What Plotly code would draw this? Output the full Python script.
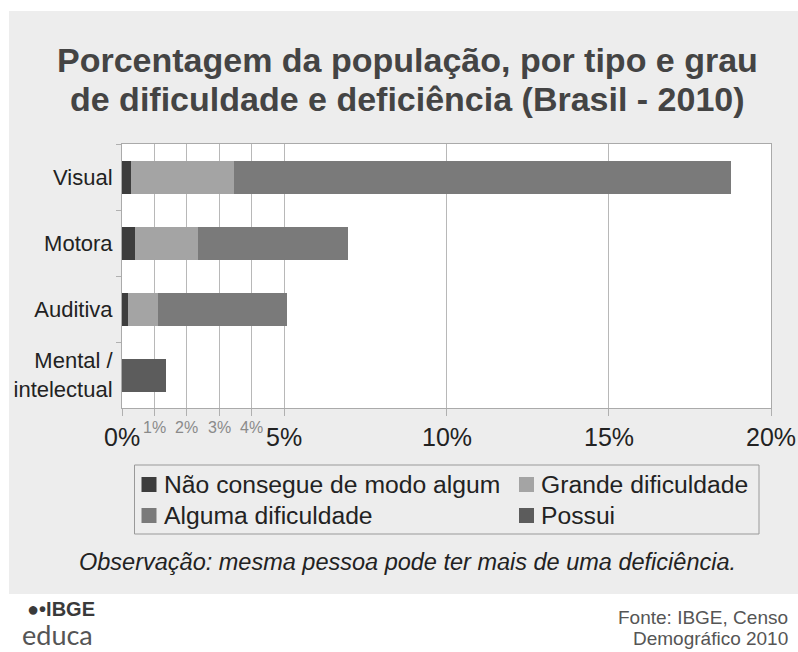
import plotly.graph_objects as go

# ---------------- data ----------------
categories = ["Visual", "Motora", "Auditiva", "Mental /<br>intelectual"]
nao_consegue = [0.27, 0.39, 0.18, None]
grande_dificuldade = [3.19, 1.94, 0.94, None]
alguma_dificuldade = [15.32, 4.63, 3.97, None]
possui = [None, None, None, 1.37]

series_names = ["Não consegue de modo algum", "Grande dificuldade",
                "Alguma dificuldade", "Possui"]
series_values = [nao_consegue, grande_dificuldade, alguma_dificuldade, possui]
series_colors = ["#3d3d3d", "#a4a4a4", "#7a7a7a", "#5c5c5c"]

major_ticks = [0, 5, 10, 15, 20]
major_labels = ["0%", "5%", "10%", "15%", "20%"]
minor_ticks = [1, 2, 3, 4]
minor_labels = ["1%", "2%", "3%", "4%"]

title_lines = ["Porcentagem da população, por tipo e grau",
               "de dificuldade e deficiência (Brasil - 2010)"]
note_text = "Observação: mesma pessoa pode ter mais de uma deficiência."
source_lines = ["Fonte: IBGE, Censo", "Demográfico 2010"]

# ---------------- layout geometry ----------------
W, H = 798, 652
L, R, T, B = 122, 771, 144, 408   # plot area in pixels
PW, PH = R - L, B - T


def px_x(px):
    return (px - L) / PW


def px_y(py):
    return (B - py) / PH


FONT = "Liberation Sans, Arial, sans-serif"

fig = go.Figure()
for name, vals, col in zip(series_names, series_values, series_colors):
    fig.add_trace(go.Bar(
        y=categories, x=vals, name=name, orientation="h",
        marker=dict(color=col, line=dict(width=0)),
        showlegend=False,
    ))

shapes = [
    # gray panel
    dict(type="rect", xref="paper", yref="paper", layer="below",
         x0=px_x(9), x1=px_x(798), y0=px_y(594), y1=px_y(11),
         fillcolor="#ededed", line=dict(width=0)),
    # white plotting area
    dict(type="rect", xref="paper", yref="paper", layer="below",
         x0=0, x1=1, y0=0, y1=1, fillcolor="white", line=dict(width=0)),
    # legend box
    dict(type="rect", xref="paper", yref="paper",
         x0=px_x(134.5), x1=px_x(759), y0=px_y(534), y1=px_y(465),
         fillcolor="rgba(0,0,0,0)", line=dict(color="#999999", width=1)),
]

annotations = []
# title
for i, line in enumerate(title_lines):
    annotations.append(dict(
        text="<b>" + line + "</b>", xref="paper", yref="paper",
        x=px_x(407), y=px_y(60 + 39 * i), xanchor="center", yanchor="middle",
        showarrow=False, font=dict(family=FONT, size=34, color="#444444")))

# major tick labels
for v, lab in zip(major_ticks, major_labels):
    annotations.append(dict(
        text=lab, xref="x", yref="paper", x=v, y=px_y(437),
        xanchor="center", yanchor="middle", showarrow=False,
        font=dict(family=FONT, size=25, color="#222222")))

# minor tick labels
for v, lab in zip(minor_ticks, minor_labels):
    annotations.append(dict(
        text=lab, xref="x", yref="paper", x=v, y=px_y(427),
        xanchor="center", yanchor="middle", showarrow=False,
        font=dict(family=FONT, size=16, color="#8a8a8a")))

# legend (2 columns)
leg_pos = [(141.5, 484.5), (519, 484.5), (141.5, 515.5), (519, 515.5)]
for (lx, ly), name, col in zip(leg_pos, series_names, series_colors):
    shapes.append(dict(type="rect", xref="paper", yref="paper",
                       x0=px_x(lx), x1=px_x(lx + 15), y0=px_y(ly + 7.5),
                       y1=px_y(ly - 7.5), fillcolor=col, line=dict(width=0)))
    annotations.append(dict(
        text=name, xref="paper", yref="paper", x=px_x(lx + 20), y=px_y(ly),
        xanchor="left", yanchor="middle", showarrow=False,
        font=dict(family=FONT, size=24.7, color="#222222")))

# note
annotations.append(dict(
    text="<i>" + note_text + "</i>", xref="paper", yref="paper",
    x=px_x(407), y=px_y(562), xanchor="center", yanchor="middle",
    showarrow=False, font=dict(family=FONT, size=23.5, color="#222222")))

# source
for i, line in enumerate(source_lines):
    annotations.append(dict(
        text=line, xref="paper", yref="paper", x=px_x(790),
        y=px_y(617 + 21 * i), xanchor="right", yanchor="middle",
        showarrow=False, font=dict(family=FONT, size=19, color="#555555")))

# logo
annotations.append(dict(
    text="<b>●•IBGE</b>", xref="paper", yref="paper", x=px_x(61),
    y=px_y(609), xanchor="center", yanchor="middle", showarrow=False,
    font=dict(family=FONT, size=20, color="#3a3a3a")))
annotations.append(dict(
    text="educa", xref="paper", yref="paper", x=px_x(57),
    y=px_y(634), xanchor="center", yanchor="middle", showarrow=False,
    font=dict(family="Lato, " + FONT, size=27, color="#555555")))

fig.update_layout(
    width=W, height=H,
    margin=dict(l=L, r=W - R, t=T, b=H - B, pad=0),
    paper_bgcolor="white", plot_bgcolor="white",
    barmode="stack", bargap=0.5,
    showlegend=False,
    shapes=shapes, annotations=annotations,
    font=dict(family=FONT, color="#222222"),
    xaxis=dict(
        range=[0, 20], tickvals=major_ticks, ticktext=major_labels,
        showticklabels=False,
        showgrid=True, gridcolor="#b8b8b8", gridwidth=1,
        ticks="outside", ticklen=7, tickcolor="#b0b0b0",
        showline=True, linecolor="#aaaaaa", linewidth=1, mirror=True,
        zeroline=False,
        minor=dict(tickvals=minor_ticks, showgrid=True, gridcolor="#b8b8b8",
                   ticks="outside", ticklen=7, tickcolor="#b0b0b0"),
        fixedrange=True,
    ),
    yaxis=dict(
        categoryorder="array", categoryarray=categories,
        autorange="reversed", tickson="boundaries",
        ticks="outside", ticklen=5, tickcolor="#b0b0b0",
        showline=True, linecolor="#aaaaaa", linewidth=1, mirror=True,
        showgrid=False, tickfont=dict(size=22, color="#222222"),
        ticklabelstandoff=4,
        fixedrange=True,
    ),
)

fig.write_html("out.html")
